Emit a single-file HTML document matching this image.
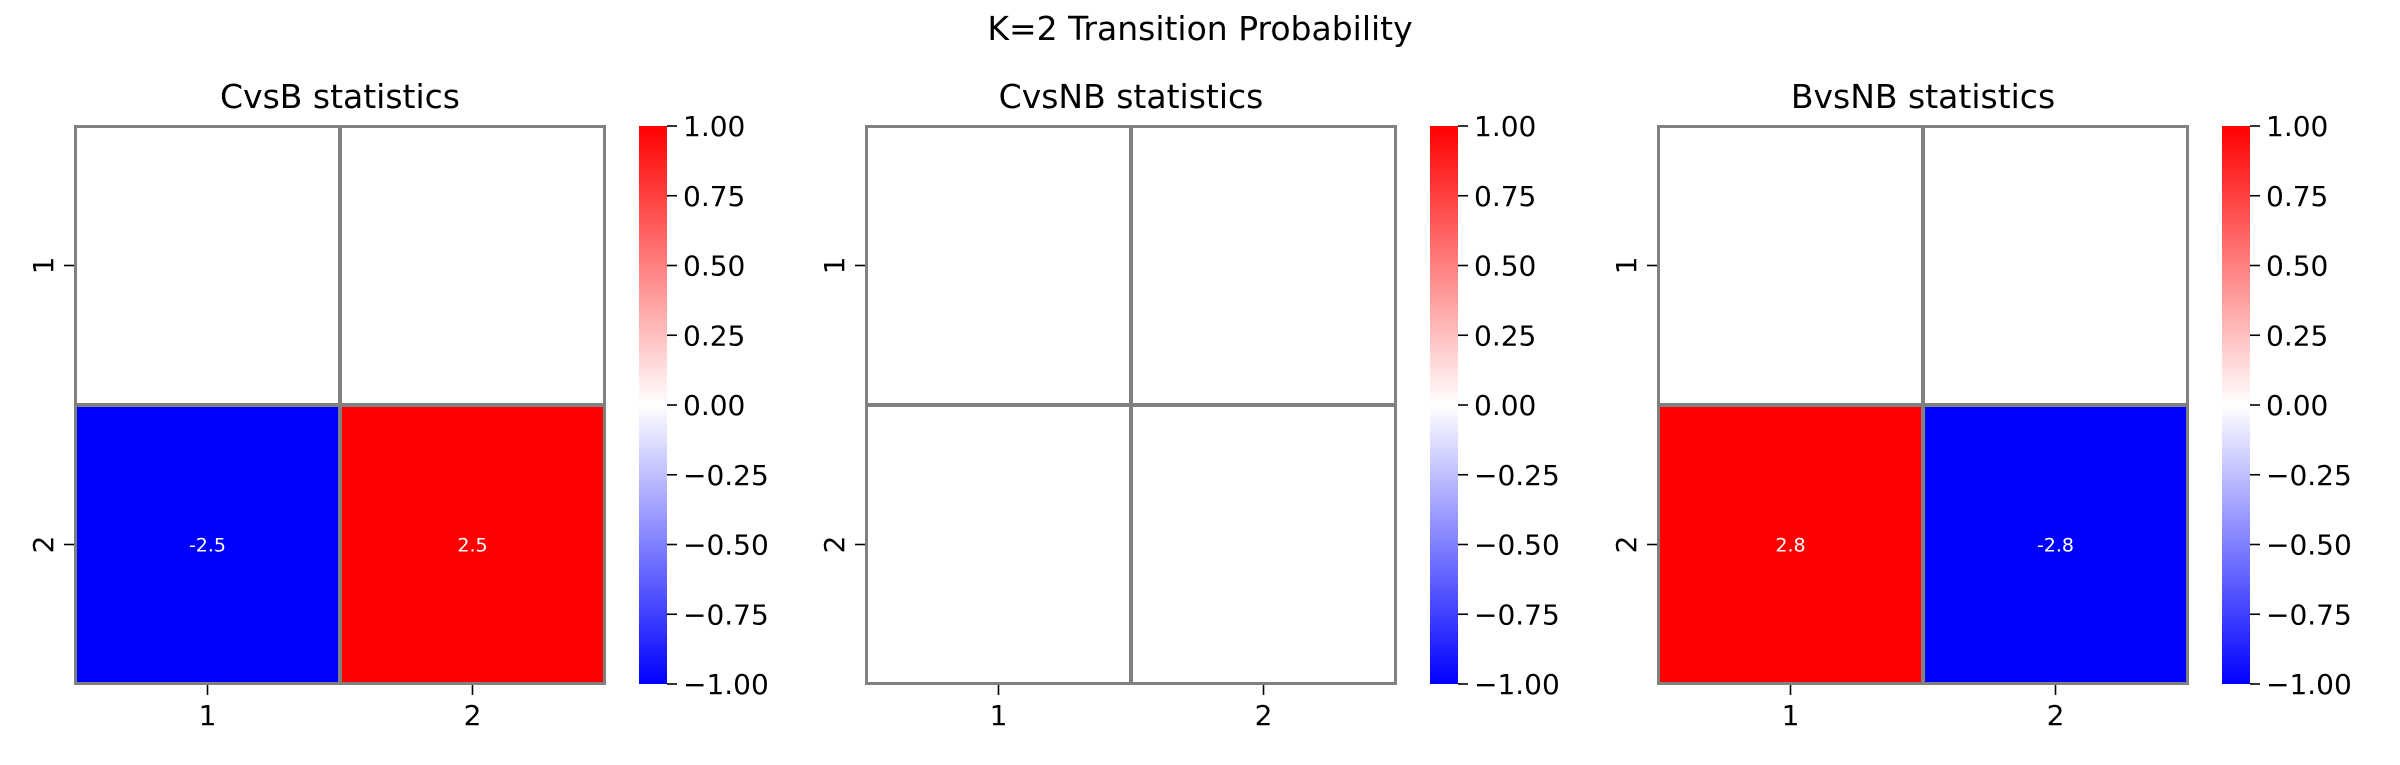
<!DOCTYPE html>
<html><head><meta charset="utf-8"><style>
html,body{margin:0;padding:0;background:#fff;}
svg text{font-family:"DejaVu Sans","Liberation Sans",sans-serif;}
</style></head><body>
<svg id="fig" width="2400" height="760" viewBox="0 0 2400 760" xmlns="http://www.w3.org/2000/svg">
<defs>
<linearGradient id="bwr" x1="0" y1="1" x2="0" y2="0">
<stop offset="0" stop-color="#0000ff"/><stop offset="0.5" stop-color="#ffffff"/><stop offset="1" stop-color="#ff0000"/>
</linearGradient>
</defs>
<text x="1200" y="40" font-size="33" text-anchor="middle">K=2 Transition Probability</text>
</svg>
<script>
const panelTitles = ["CvsB statistics", "CvsNB statistics", "BvsNB statistics"];
const rowLabels = ["1", "2"];
const colLabels = ["1", "2"];
const panel1Values = [[0, 0], [-2.5, 2.5]];
const panel2Values = [[0, 0], [0, 0]];
const panel3Values = [[0, 0], [2.8, -2.8]];
const panel1Annot = [[false, false], [true, true]];
const panel2Annot = [[false, false], [false, false]];
const panel3Annot = [[false, false], [true, true]];
const cbarTicks = [1.0, 0.75, 0.5, 0.25, 0.0, -0.25, -0.5, -0.75, -1.0];
const vmin = -1, vmax = 1;

const svg = document.getElementById('fig');
const NS = 'http://www.w3.org/2000/svg';
function mk(tag, attrs, parent) {
  const e = document.createElementNS(NS, tag);
  for (const k in attrs) e.setAttribute(k, attrs[k]);
  (parent || svg).appendChild(e);
  return e;
}
function color(v) {
  let t = (Math.max(vmin, Math.min(vmax, v)) - vmin) / (vmax - vmin);
  let r, g, b;
  if (t < 0.5) { const s = t / 0.5; r = Math.round(255 * s); g = r; b = 255; }
  else { const s = (1 - t) / 0.5; r = 255; g = Math.round(255 * s); b = g; }
  return `rgb(${r},${g},${b})`;
}
function fmtTick(v) { const s = Math.abs(v).toFixed(2); return (v < 0 ? '\u2212' : '') + s; }

const panels = [
  {x0: 75, vals: panel1Values, ann: panel1Annot, key: 'cvsb'},
  {x0: 866, vals: panel2Values, ann: panel2Annot, key: 'cvsnb'},
  {x0: 1658, vals: panel3Values, ann: panel3Annot, key: 'bvsnb'}
];
const AW = 530, AY = 126, AH = 558;

panels.forEach((p, pi) => {
  const g = mk('g', {});
  
  
  const nr = rowLabels.length, nc = colLabels.length;
  const cw = AW / nc, ch = AH / nr;
  const xs = c => p.x0 + c * cw;
  const ys = r => AY + r * ch;
  const t = mk('text', {x: p.x0 + AW / 2, y: 108, 'font-size': 33, 'text-anchor': 'middle'}, g);
  
  
  t.textContent = panelTitles[pi];
  for (let r = 0; r < nr; r++) for (let c = 0; c < nc; c++) {
    const rc = mk('rect', {x: xs(c), y: ys(r), width: cw, height: ch, fill: color(p.vals[r][c]), stroke: '#808080', 'stroke-width': 4}, g);
    
    
    if (p.ann[r][c]) {
      const at = mk('text', {x: xs(c) + cw / 2, y: ys(r) + ch / 2 + 7, 'font-size': 19, 'text-anchor': 'middle', fill: '#fff'}, g);
      
      
      at.textContent = p.vals[r][c].toFixed(1);
    }
  }
  // outer border (thinner than inner lines) - cover outer half of stroke
  mk('rect', {x: p.x0 - 3, y: AY - 3, width: AW + 6, height: AH + 6, fill: 'none', stroke: '#fff', 'stroke-width': 4}, g);
  mk('rect', {x: p.x0, y: AY, width: AW, height: AH, fill: 'none', stroke: '#808080', 'stroke-width': 2}, g);
  colLabels.forEach((lab, c) => {
    const cx = xs(c) + cw / 2;
    mk('line', {x1: cx, x2: cx, y1: AY + AH + 1, y2: AY + AH + 11, stroke: '#000', 'stroke-width': 1.6}, g);
    const tx = mk('text', {x: cx, y: AY + AH + 41, 'font-size': 28, 'text-anchor': 'middle'}, g);
    
    
    tx.textContent = lab;
  });
  rowLabels.forEach((lab, r) => {
    const cy = ys(r) + ch / 2;
    mk('line', {x1: p.x0 - 11, x2: p.x0 - 1, y1: cy, y2: cy, stroke: '#000', 'stroke-width': 1.6}, g);
    const ty = mk('text', {x: p.x0 - 22, y: cy, 'font-size': 28, 'text-anchor': 'middle', transform: `rotate(-90 ${p.x0 - 22} ${cy})`}, g);
    
    
    ty.textContent = lab;
  });
  const cbx = p.x0 + AW + 34, cbw = 28;
  const cb = mk('rect', {x: cbx, y: AY, width: cbw, height: AH, fill: 'url(#bwr)'}, g);
  
  
  const cy = v => AY + (vmax - v) / (vmax - vmin) * AH;
  cbarTicks.forEach(v => {
    const yy = cy(v);
    mk('line', {x1: cbx + cbw, x2: cbx + cbw + 10, y1: yy, y2: yy, stroke: '#000', 'stroke-width': 1.6}, g);
    const tl = mk('text', {x: cbx + cbw + 16, y: yy + 10, 'font-size': 28}, g);
    
    
    tl.textContent = fmtTick(v);
  });
});
</script>
</body></html>
